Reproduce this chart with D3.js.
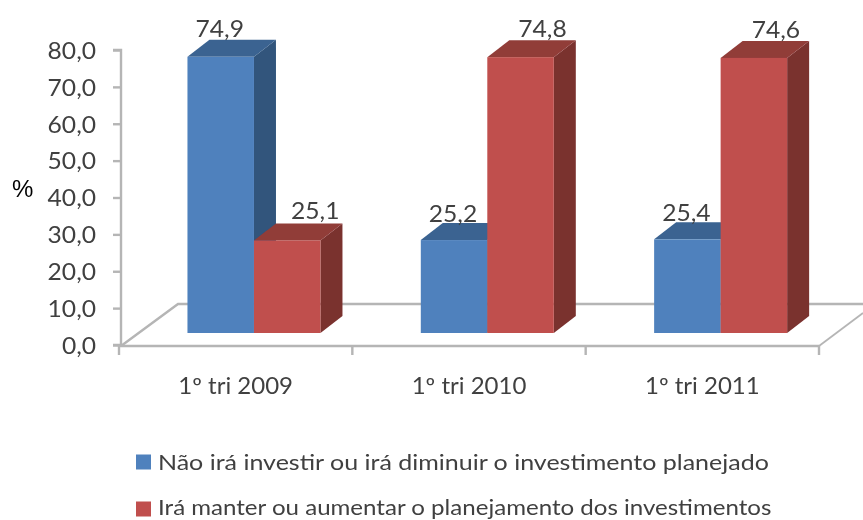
<!DOCTYPE html>
<html><head><meta charset="utf-8">
<script src="https://cdn.jsdelivr.net/npm/d3@7/dist/d3.min.js"></script>
<style>html,body{margin:0;padding:0;background:#fff}svg{display:block}text{font-family:Lato,"Open Sans",sans-serif}</style>
</head><body><svg id="c" width="863" height="520"></svg>
<script>
const categories = ["1º tri 2009","1º tri 2010","1º tri 2011"];
const seriesNames = ["Não irá investir ou irá diminuir o investimento planejado","Irá manter ou aumentar o planejamento dos investimentos"];
const valuesBlue = [74.9,25.2,25.4];
const valuesRed = [25.1,74.8,74.6];
const yTicks = [0,10,20,30,40,50,60,70,80];
const colors = [{front:"#4f81bd",top:"#3a6391",side:"#30547c"},{front:"#c0504d",top:"#913c39",side:"#7a302e"}];

const W=863,H=520,depthX=22,depthY=-17,axisX=121,x0=119,x1=819,yBottom=345,yTop=50,floorShift=12;
const svg=d3.select("#c");
const defs=svg.append("defs");
defs.append("filter").attr("id","soft").attr("x","-5%").attr("y","-5%").attr("width","110%").attr("height","110%")
  .append("feGaussianBlur").attr("stdDeviation",0.7);
const root=svg.append("g").attr("filter","url(#soft)");
const x=d3.scaleBand().domain(categories).range([x0,x1]);
const y=d3.scaleLinear().domain([0,80]).range([yBottom,yTop]);
const fmt=v=>d3.format(".1f")(v).replace(".",",");
const axisCol="#b5b5b5",textCol="#404040";
const stretch=(sel,k)=>sel.each(function(){
  const len=this.getComputedTextLength();
  d3.select(this).attr("textLength",len*k).attr("lengthAdjust","spacingAndGlyphs");
});

// floor
const floor=root.append("g").attr("fill","none").attr("stroke",axisCol).attr("stroke-width",2.4);
floor.append("path").attr("d",`M${axisX},${yBottom+1}L${axisX+57},${yBottom-41}H${W}`);
floor.append("path").attr("d",`M${x1},${yBottom+1}L${x1+44},${yBottom-32}`).attr("stroke-width",1.8);

// axes
const gy=root.append("g").attr("transform",`translate(${axisX},0)`).call(d3.axisLeft(y).tickValues(yTicks).tickFormat(fmt).tickSize(8).tickPadding(17));
gy.selectAll("line,path").attr("stroke",axisCol).attr("stroke-width",2.4);
gy.select(".domain").attr("d",`M-8,${yTop}H0V${yBottom}H-8`).attr("fill","none");
gy.selectAll("text").attr("font-size",23).attr("fill",textCol).attr("dy","0.36em").call(stretch,1.07);

const gx=root.append("g").attr("transform",`translate(0,${yBottom+1})`)
  .call(d3.axisBottom(x).tickSize(0).tickPadding(32));
gx.select(".domain").attr("stroke",axisCol).attr("stroke-width",2.4).attr("d",`M${axisX-3},0H${x1}`);
gx.selectAll("text").attr("font-size",22.5).attr("fill",textCol).call(stretch,1.067);
gx.selectAll("line.sep").data(x.domain().map(d=>x(d)).concat(x1)).enter().append("line").attr("class","sep")
  .attr("x1",d=>d).attr("x2",d=>d).attr("y1",0).attr("y2",9).attr("stroke",axisCol).attr("stroke-width",2.4);

// bars
const barW=66.5, groupOffset=18.3, base=yBottom-floorShift;
const h=v=>y(0)-y(v);
const rows=categories.flatMap((c,i)=>[
  {c,s:0,v:valuesBlue[i]},{c,s:1,v:valuesRed[i]}]);
const px=d=>x(d.c)+x.bandwidth()/2+groupOffset-barW+d.s*barW;
const bars=root.append("g").selectAll("g").data(rows).enter().append("g");
bars.append("path").attr("fill",d=>colors[d.s].side)
  .attr("d",d=>{const l=px(d)+barW,t=base-h(d.v);return `M${l},${t}l${depthX},${depthY}V${base+depthY}l${-depthX},${-depthY}Z`});
bars.append("path").attr("fill",d=>colors[d.s].top)
  .attr("d",d=>{const l=px(d),t=base-h(d.v);return `M${l},${t}l${depthX},${depthY}h${barW}l${-depthX},${-depthY}Z`});
bars.append("rect").attr("fill",d=>colors[d.s].front)
  .attr("x",d=>px(d)).attr("width",barW).attr("y",d=>base-h(d.v)).attr("height",d=>h(d.v));
bars.append("text").text(d=>fmt(d.v)).attr("text-anchor","middle").attr("font-size",23).attr("fill",textCol)
  .attr("x",d=>px(d)+barW/2+(d.s?(d.v<50?28:22):-1))
  .attr("y",d=>base-h(d.v)+(d.v>50?-20:(d.s?-21:-18))).call(stretch,1.07);

// percent
root.append("text").text("%").attr("x",12).attr("y",197).attr("font-size",24).attr("fill","#000").style("font-family","Liberation Sans");

// legend
const leg=root.append("g").selectAll("g").data(seriesNames).enter().append("g")
  .attr("transform",(d,i)=>`translate(136,${462+i*47})`);
leg.append("rect").attr("width",15).attr("height",15).attr("y",-7.5).attr("fill",(d,i)=>colors[i].front);
leg.append("text").text(d=>d).attr("x",22).attr("y",(d,i)=>i?-1.6:0).attr("dy","0.36em").attr("font-size",21).attr("fill",textCol)
  .each(function(d,i){d3.select(this).attr("textLength",this.getComputedTextLength()*(i?1.146:1.19)).attr("lengthAdjust","spacingAndGlyphs");});
</script></body></html>
